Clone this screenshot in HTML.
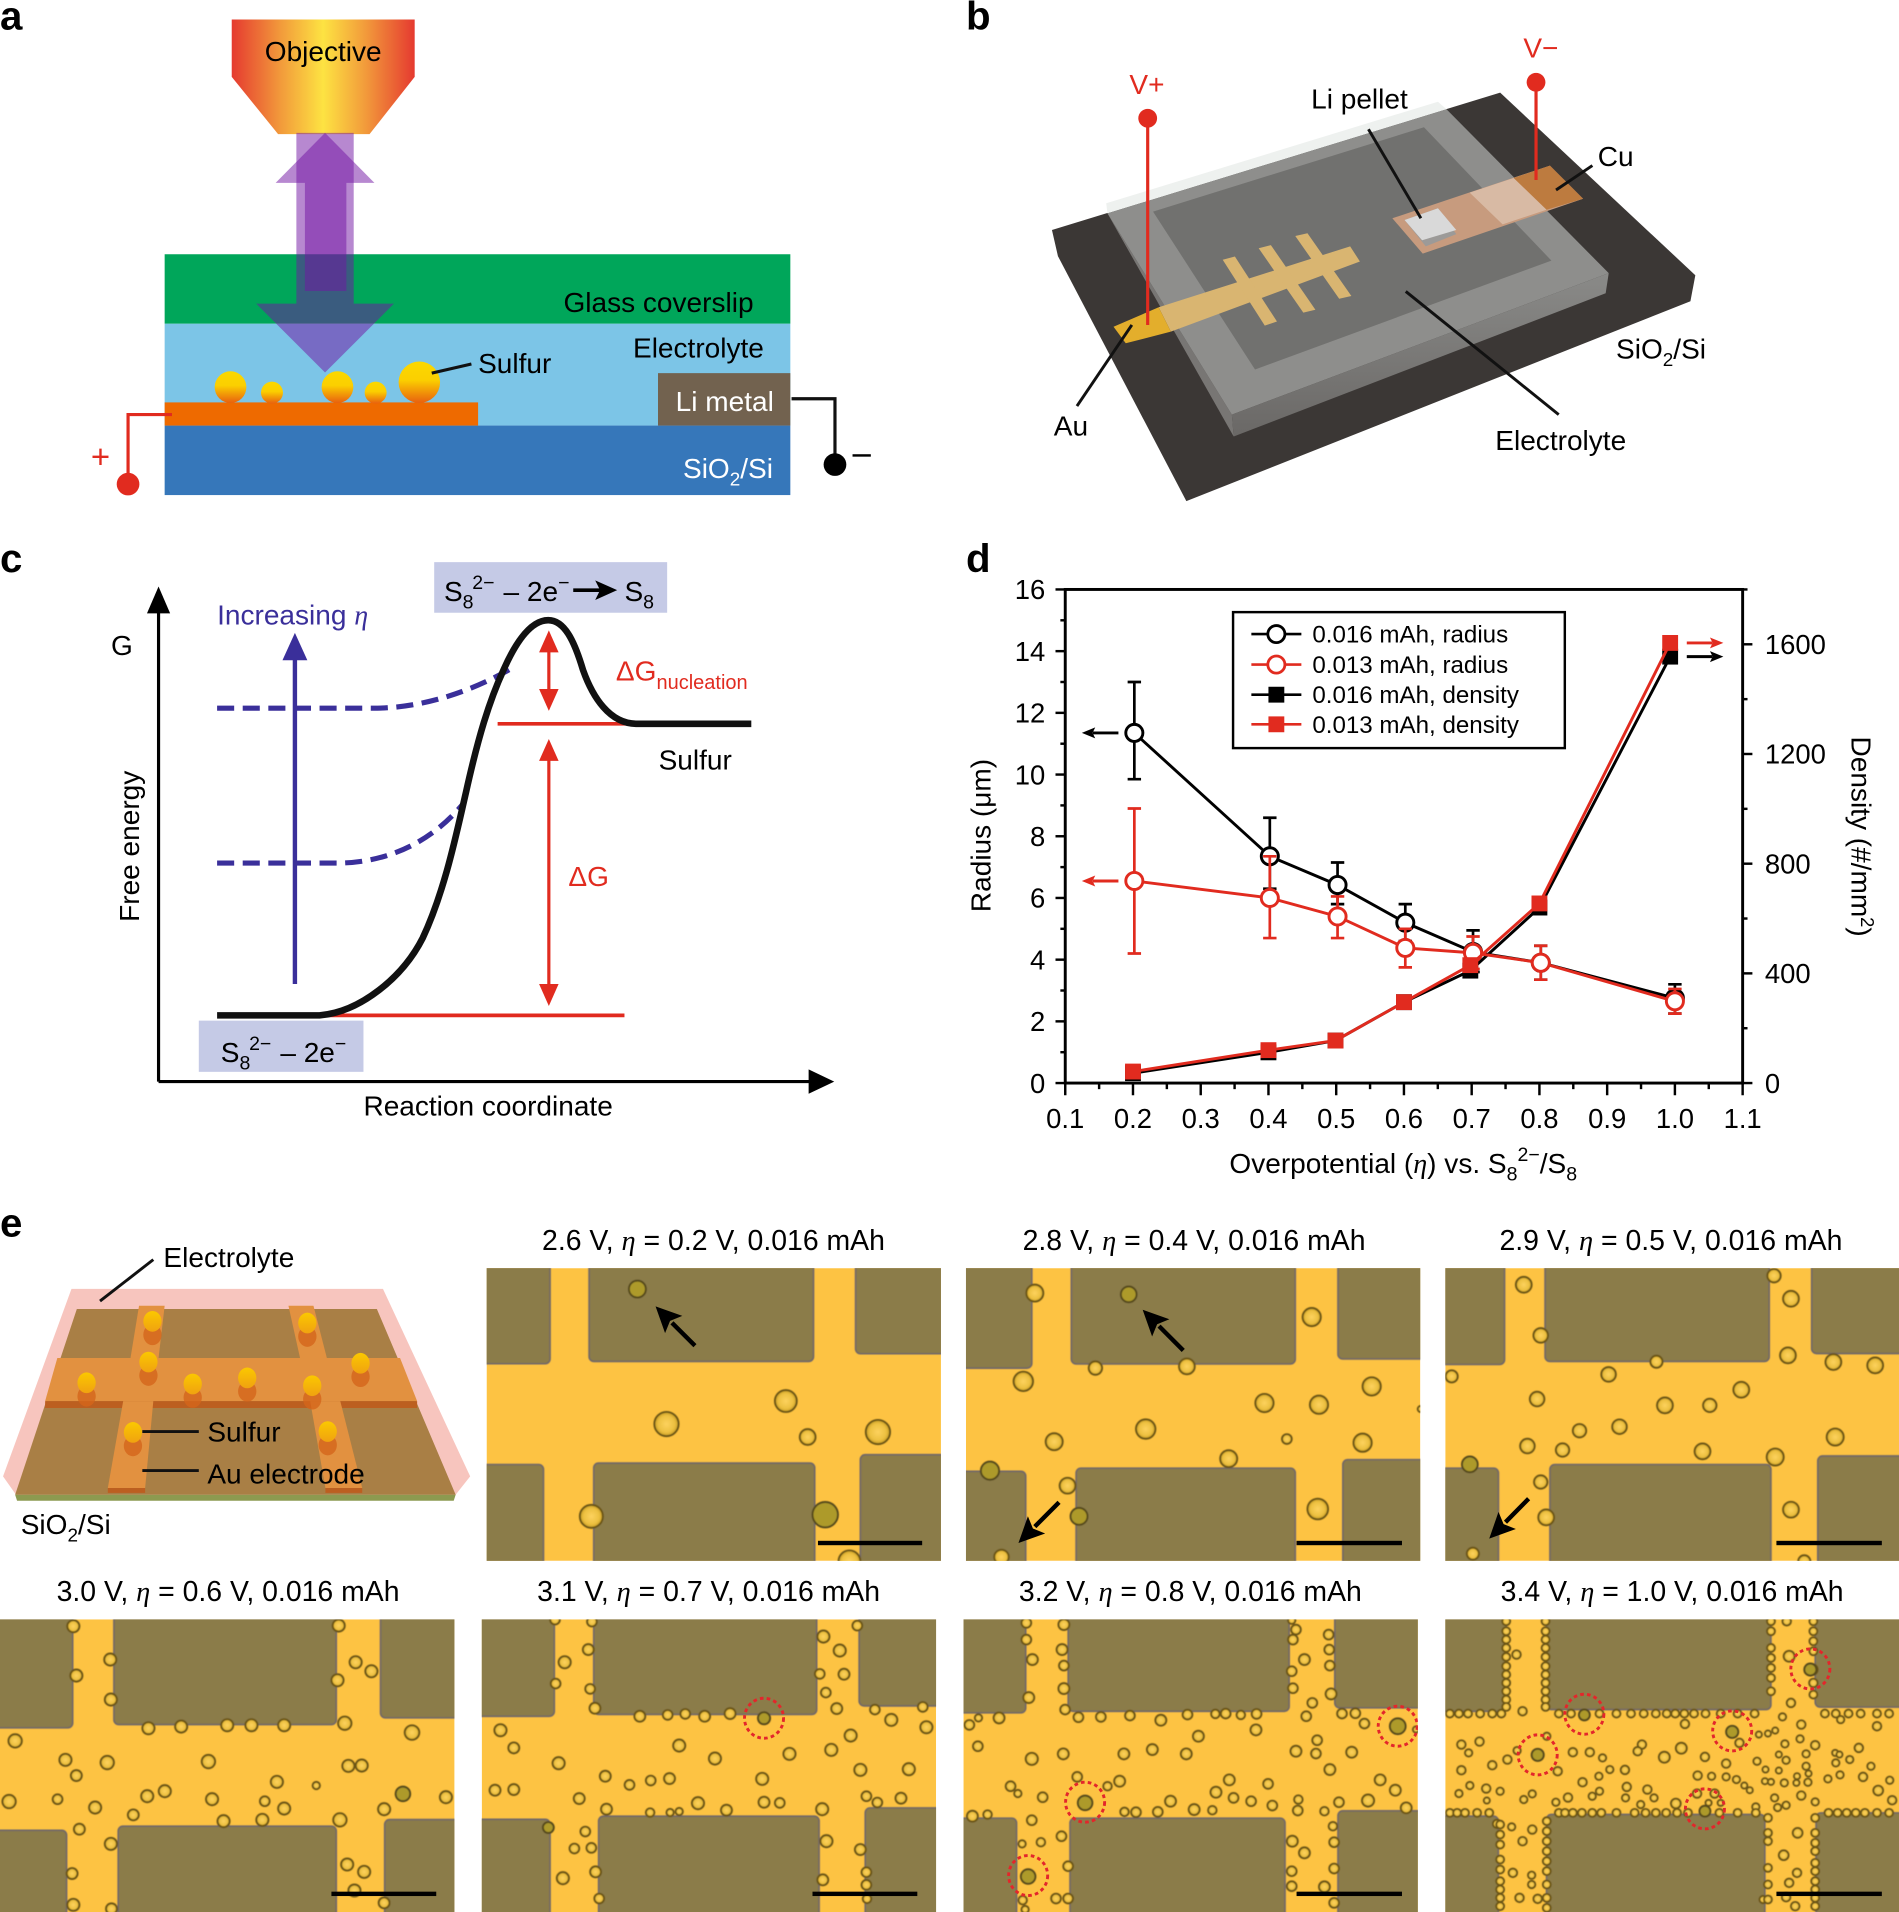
<!DOCTYPE html>
<html lang="en">
<head>
<meta charset="utf-8">
<title>Sulfur nucleation figure</title>
<style>
html,body{margin:0;padding:0;background:#fff}
svg{display:block}
text{font-family:"Liberation Sans",Arial,sans-serif;font-size:23px;fill:#000}
.eta{font-family:"Liberation Serif",serif;font-style:italic}
.lab{font-weight:bold;font-size:33px}
.red{fill:#e12b1f}
.wh{fill:#fff}
.blue{fill:#3a2f9a}
.ttl{font-size:23.3px;text-anchor:middle}
.leg{font-size:19.8px}
.tick{font-size:22.5px}
</style>
</head>
<body>
<svg id="fig" xmlns="http://www.w3.org/2000/svg" width="1899" height="1912" viewBox="0 0 1557 1568" preserveAspectRatio="none">
<defs>
<linearGradient id="objG" x1="0" x2="1" y1="0" y2="0"><stop offset="0" stop-color="#e53a30"/><stop offset=".27" stop-color="#f29b3b"/><stop offset=".5" stop-color="#fde342"/><stop offset=".73" stop-color="#f29b3b"/><stop offset="1" stop-color="#e53a30"/></linearGradient>
<linearGradient id="ball" x1="0" x2="0" y1="0" y2="1"><stop offset="0" stop-color="#fbd800"/><stop offset=".45" stop-color="#fbcf00"/><stop offset="1" stop-color="#e8600f"/></linearGradient>
<linearGradient id="ballE" x1="0" x2="0" y1="0" y2="1"><stop offset="0" stop-color="#fbc800"/><stop offset="1" stop-color="#f0a210"/></linearGradient>
<radialGradient id="bub"><stop offset="0" stop-color="#fdd25e"/><stop offset=".68" stop-color="#edc040"/><stop offset="1" stop-color="#c79c24"/></radialGradient>
<linearGradient id="sideG" x1="0" x2="0" y1="0" y2="1"><stop offset="0" stop-color="#8a8a88"/><stop offset="1" stop-color="#6a6866"/></linearGradient>
<filter id="soft" x="-2%" y="-2%" width="104%" height="104%"><feGaussianBlur stdDeviation=".45"/></filter>
</defs>

<!-- PANEL A -->
<g>
<text class="lab" x="0" y="24">a</text>
<rect x="135" y="208.5" width="513" height="57" fill="#00a65a"/>
<rect x="135" y="265.5" width="513" height="83.5" fill="#7cc5e7"/>
<rect x="135" y="349" width="513" height="57" fill="#3677ba"/>
<rect x="135" y="330" width="257" height="19" fill="#ee6a00"/>
<rect x="539.5" y="306" width="108.5" height="43" fill="#72624f"/>
<polygon points="190,16 340,16 340,63 303,110 228,110 190,63" fill="url(#objG)"/>
<polygon points="243,109 290,109 290,249 323,249 266.5,305.5 210,249 243,249" fill="#7215a3" fill-opacity=".51"/>
<polygon points="266.5,109 307,150 284,150 284,238.6 250,238.6 250,150 226,150" fill="#7215a3" fill-opacity=".51"/>
<g fill="url(#ball)">
<ellipse cx="189" cy="317.5" rx="13" ry="13"/><ellipse cx="223" cy="322" rx="9" ry="9"/><ellipse cx="276.7" cy="317.5" rx="13" ry="13"/><ellipse cx="308" cy="322" rx="9" ry="9"/><ellipse cx="343.8" cy="313.5" rx="17" ry="17"/>
</g>
<line x1="354" y1="306" x2="386.5" y2="298.5" stroke="#111" stroke-width="2.6"/>
<text x="265" y="50" text-anchor="middle">Objective</text>
<text x="462" y="256">Glass coverslip</text>
<text x="519" y="293">Electrolyte</text>
<text x="392" y="306">Sulfur</text>
<text x="554" y="337" class="wh">Li metal</text>
<text x="560" y="392" class="wh">SiO<tspan dy="6" font-size="15.5" class="wh">2</tspan><tspan dy="-6" class="wh">/Si</tspan></text>
<path d="M141,340 H105 V393" fill="none" stroke="#e12b1f" stroke-width="2.6"/>
<circle cx="105" cy="397" r="9.3" fill="#e12b1f"/>
<text x="74.5" y="384" class="red" font-size="27" style="font-size:27px">+</text>
<path d="M649,327 H684.6 V377" fill="none" stroke="#111" stroke-width="2.6"/>
<circle cx="684.6" cy="381" r="9.3" fill="#000"/>
<rect x="699" y="372.5" width="15" height="2" fill="#000"/>
</g>

<!-- PANEL B -->
<g>
<text class="lab" x="792" y="24">b</text>
<polygon points="862.5,188.6 1230,76 1390,225.7 1386,247 972.7,411 867.4,210" fill="#3b3735"/>
<polygon points="907,166.7 1179,83.4 1186,89.6 908,175" fill="#eef1ef"/>
<polygon points="908,175 1010,340 1011.5,358" fill="#787674"/>
<polygon points="908,175 1186,89.6 1319,224 1010,340" fill="#8e8e8c"/>
<polygon points="1010,340 1319,224 1316.5,240.5 1011.5,358" fill="url(#sideG)"/>
<polygon points="945.4,173.5 1167.5,104.4 1272,213.7 1029,303" fill="#71716f"/>
<polygon points="1141.6,179 1270.8,135.8 1298,163 1166.5,208" fill="#c79b7e"/>
<polygon points="1241,146 1270.8,135.8 1298,163 1268,172" fill="#bd7b3f"/>
<polygon points="1205,158 1241,146 1268,172 1232,184" fill="#d8baa4"/>
<polygon points="1151.6,180.4 1179,170.8 1194,192 1169,202" fill="#9c9a98"/>
<polygon points="1151.6,180.4 1179,170.8 1194,188.6 1166,197" fill="#d9d9d9"/>
<g fill="#d9b571">
<polygon points="950,252 1107,202 1115,214.5 960,272"/>
<polygon points="1002.5,213 1012.5,210.4 1047,263.7 1037,267"/>
<polygon points="1032,203.6 1042,201 1078.5,254 1068.6,256.4"/>
<polygon points="1062,193.5 1072,191.3 1108,242.7 1098,245"/>
</g>
<polygon points="913,268 950,252 960,272 923,281.5" fill="#e3ae2c"/>
<g stroke="#e12b1f" stroke-width="2.6" fill="#e12b1f">
<line x1="941" y1="97" x2="941" y2="266.5"/>
<circle cx="941" cy="97" r="7.7" stroke="none"/>
<line x1="1259.4" y1="67.5" x2="1259.4" y2="147.6"/>
<circle cx="1259.4" cy="67.5" r="7.7" stroke="none"/>
</g>
<g stroke="#111" stroke-width="2.4">
<line x1="1122" y1="106" x2="1165" y2="179"/>
<line x1="1305.6" y1="135.8" x2="1275.8" y2="155.8"/>
<line x1="928" y1="266.5" x2="883" y2="333"/>
<line x1="1152.6" y1="239" x2="1278" y2="340"/>
</g>
<text x="926" y="77" class="red">V+</text>
<text x="1249" y="47" class="red">V−</text>
<text x="1075" y="89">Li pellet</text>
<text x="1310" y="136">Cu</text>
<text x="1325" y="294">SiO<tspan dy="6" font-size="15.5">2</tspan><tspan dy="-6">/Si</tspan></text>
<text x="864" y="357">Au</text>
<text x="1226" y="369">Electrolyte</text>
</g>

<!-- PANEL C -->
<g>
<text class="lab" x="0" y="469">c</text>
<rect x="356" y="461" width="191" height="41.5" fill="#c5cae6"/>
<rect x="163" y="837" width="135" height="42" fill="#c5cae6"/>
<path d="M130,887 V495 M130,887 H670" fill="none" stroke="#000" stroke-width="2.6"/>
<polygon points="130,481 139.5,503 120.5,503" fill="#000"/>
<polygon points="684,887 663,877 663,897" fill="#000"/>
<g stroke="#3a2f9a" stroke-width="4.2" fill="none" stroke-dasharray="14 7">
<path d="M178,580.8 H306 C345,580.8 385,568 420,547.8"/>
<path d="M178,707.8 H276 C318,707.8 355,690 381,657.6"/>
</g>
<line x1="241.8" y1="807" x2="241.8" y2="535" stroke="#3a2f9a" stroke-width="3.6"/>
<polygon points="241.8,519 252,541.5 231.6,541.5" fill="#3a2f9a"/>
<path d="M266,832.7 H512 M408,593.6 H518" stroke="#e12b1f" stroke-width="3" fill="none"/>
<path d="M178,832.7 H262 C295,830 330,802 346.7,769 C365,730 375,680 382,650 C392,605 401,575 413,549 C425,522 437,508.6 449.5,508.6 C463,508.6 471,526 478,549.4 C486,572 500,593.6 522,593.6 H616" fill="none" stroke="#111" stroke-width="5.4"/>
<g>
<line x1="450" y1="530" x2="450" y2="570" stroke="#e12b1f" stroke-width="2.6"/>
<polygon points="450,517 458,535 442,535" fill="#e12b1f"/><polygon points="450,583 458,565 442,565" fill="#e12b1f"/>
</g>
<g>
<line x1="450" y1="620" x2="450" y2="812" stroke="#e12b1f" stroke-width="2.6"/>
<polygon points="450,606 458,624 442,624" fill="#e12b1f"/><polygon points="450,825 458,807 442,807" fill="#e12b1f"/>
</g>
<text x="178" y="512" class="blue">Increasing <tspan class="eta blue">η</tspan></text>
<text x="91" y="537">G</text>
<text transform="translate(114,756) rotate(-90)">Free energy</text>
<text x="505" y="558" class="red">ΔG<tspan dy="7" font-size="16.4" class="red">nucleation</tspan></text>
<text x="466" y="726.5" class="red">ΔG</text>
<text x="540" y="631">Sulfur</text>
<text x="298" y="915">Reaction coordinate</text>
<text x="364" y="493">S<tspan dy="6" font-size="16">8</tspan><tspan dx="-1" dy="-16" font-size="16">2−</tspan><tspan dx="1" dy="10"> – 2e</tspan><tspan dy="-10" font-size="16">−</tspan></text>
<line x1="470" y1="484" x2="495" y2="484" stroke="#000" stroke-width="3"/>
<polygon points="506,484 488,476 492,484 488,492" fill="#000"/>
<text x="512" y="493">S<tspan dy="6" font-size="16">8</tspan></text>
<text x="181" y="871">S<tspan dy="6" font-size="16">8</tspan><tspan dx="-1" dy="-16" font-size="16">2−</tspan><tspan dx="1" dy="10"> – 2e</tspan><tspan dy="-10" font-size="16">−</tspan></text>
</g>

<!-- PANEL D -->
<g id="chart">
<text class="lab" x="792" y="469">d</text>
<text transform="translate(812,748) rotate(-90)">Radius (μm)</text>
<text transform="translate(1518,604) rotate(90)">Density (#/mm<tspan dy="-8" font-size="15">2</tspan><tspan dy="8">)</tspan></text>
<text x="1008" y="962">Overpotential (<tspan class="eta">η</tspan>) vs. S<tspan dy="6" font-size="16">8</tspan><tspan dy="-16" font-size="16">2−</tspan><tspan dy="10">/S</tspan><tspan dy="6" font-size="16">8</tspan></text>
</g>

<!-- PANEL E -->
<g>
<text class="lab" x="0" y="1014">e</text>
<polygon points="58.6,1057 314,1057 385.5,1210.7 372.6,1227 14,1227 2.5,1210.7" fill="#f7c5be"/>
<polygon points="63,1073.5 309,1073.5 373.6,1225.8 12.4,1225.8" fill="#a97f45"/>
<polygon points="12.4,1225.8 373.6,1225.8 372,1230.7 14,1230.7" fill="#8c9a50"/>
<g fill="#e29140">
<polygon points="114,1070.8 135,1070.8 130,1113.7 107,1113.7"/>
<polygon points="236.5,1070.8 257,1070.8 268,1113.7 246,1113.7"/>
<polygon points="47,1113.7 328,1113.7 342,1149 37,1149"/>
</g>
<polygon points="37,1149 342,1149 342,1154.7 37,1154.7" fill="#bc5f20"/>
<g fill="#e29140">
<polygon points="101,1149 125.7,1149 119,1220.3 88.4,1220.3"/>
<polygon points="254.3,1149 279,1149 297,1220.3 266.8,1220.3"/>
</g>
<rect x="88.4" y="1220.3" width="30.6" height="4" fill="#bc5f20"/>
<rect x="266.8" y="1220.3" width="30.2" height="4" fill="#bc5f20"/>
<g id="diagBalls"></g>
<line x1="82" y1="1067" x2="125.7" y2="1033" stroke="#111" stroke-width="2.4"/>
<line x1="116.7" y1="1174" x2="163" y2="1174" stroke="#111" stroke-width="2.4"/>
<line x1="116.7" y1="1206" x2="163" y2="1206" stroke="#111" stroke-width="2.4"/>
<text x="134" y="1039">Electrolyte</text>
<text x="170" y="1182">Sulfur</text>
<text x="170" y="1216.5">Au electrode</text>
<text x="17" y="1258">SiO<tspan dy="6" font-size="15.5">2</tspan><tspan dy="-6">/Si</tspan></text>

<text class="ttl" x="585" y="1025">2.6 V, <tspan class="eta">η</tspan> = 0.2 V, 0.016 mAh</text>
<text class="ttl" x="979" y="1025">2.8 V, <tspan class="eta">η</tspan> = 0.4 V, 0.016 mAh</text>
<text class="ttl" x="1370" y="1025">2.9 V, <tspan class="eta">η</tspan> = 0.5 V, 0.016 mAh</text>
<text class="ttl" x="187" y="1313">3.0 V, <tspan class="eta">η</tspan> = 0.6 V, 0.016 mAh</text>
<text class="ttl" x="581" y="1313">3.1 V, <tspan class="eta">η</tspan> = 0.7 V, 0.016 mAh</text>
<text class="ttl" x="976" y="1313">3.2 V, <tspan class="eta">η</tspan> = 0.8 V, 0.016 mAh</text>
<text class="ttl" x="1371" y="1313">3.4 V, <tspan class="eta">η</tspan> = 1.0 V, 0.016 mAh</text>
<g id="micros"></g>
</g>
</svg>

<script>
/* ---------- chart data (panel d) ---------- */
const overpotentialRadius = [0.202, 0.402, 0.502, 0.602, 0.702, 0.802, 1.0];
const overpotentialDensity = [0.2, 0.4, 0.499, 0.6, 0.698, 0.8, 0.993];
const radius016 = [11.35, 7.35, 6.42, 5.2, 4.25, 3.9, 2.75];
const radius016Upper = [13.0, 8.6, 7.15, 5.8, 4.95, 4.45, 3.2];
const radius016Lower = [9.85, 6.3, 5.8, 4.6, 3.6, 3.35, 2.25];
const radius013 = [6.55, 6.0, 5.4, 4.38, 4.22, 3.9, 2.65];
const radius013Upper = [8.9, 7.35, 6.05, 5.0, 4.75, 4.45, 3.05];
const radius013Lower = [4.2, 4.7, 4.7, 3.75, 3.7, 3.35, 2.25];
const density016 = [36, 112, 155, 295, 410, 640, 1555];
const density013 = [42, 120, 155, 295, 430, 655, 1605];
const xTickLabels = ['0.1','0.2','0.3','0.4','0.5','0.6','0.7','0.8','0.9','1.0','1.1'];
const radiusTickLabels = ['0','2','4','6','8','10','12','14','16'];
const densityTickLabels = ['0','400','800','1200','1600'];
const legendLabels = ['0.016 mAh, radius','0.013 mAh, radius','0.016 mAh, density','0.013 mAh, density'];

const SVGNS = 'http://www.w3.org/2000/svg';
function mk(tag, parent, attrs) {
  const el = document.createElementNS(SVGNS, tag);
  for (const k in attrs) el.setAttribute(k, attrs[k]);
  parent.appendChild(el);
  return el;
}

const PX0 = 873.4, PX1 = 1428.8, PY0 = 888.2, PY1 = 483.4;
const xScale = v => PX0 + (v - 0.1) / 1.0 * (PX1 - PX0);
const rScale = v => PY0 - v / 16 * (PY0 - PY1);
const dScale = v => PY0 - v / 1800 * (PY0 - PY1);
const BLACK = '#000', RED = '#e12b1f';
const chart = document.getElementById('chart');

function drawAxes() {
  const frame = mk('rect', chart, {x: PX0, y: PY1, width: PX1 - PX0, height: PY0 - PY1, fill: 'none', stroke: '#000', 'stroke-width': 2.4});
  
  
  for (let i = 0; i <= 20; i++) {
    const v = 0.1 + i * 0.05, major = i % 2 === 0;
    const t = mk('line', chart, {x1: xScale(v), x2: xScale(v), y1: PY0, y2: PY0 + (major ? 10 : 5), stroke: '#000', 'stroke-width': 2});
    
    
  }
  xTickLabels.forEach(s => {
    const l = mk('text', chart, {x: xScale(+s), y: 925, 'text-anchor': 'middle', class: 'tick'});
    l.textContent = s;
    
    
  });
  for (let v = 0; v <= 16; v++) {
    const major = v % 2 === 0;
    const t = mk('line', chart, {x1: PX0 - (major ? 8 : 4), x2: PX0, y1: rScale(v), y2: rScale(v), stroke: '#000', 'stroke-width': 2});
    
    
  }
  radiusTickLabels.forEach(s => {
    const l = mk('text', chart, {x: 857, y: rScale(+s) + 8, 'text-anchor': 'end', class: 'tick'});
    l.textContent = s;
    
    
  });
  for (let v = 0; v <= 1800; v += 200) {
    const major = v % 400 === 0;
    const t = mk('line', chart, {x1: PX1, x2: PX1 + (major ? 8 : 4), y1: dScale(v), y2: dScale(v), stroke: '#000', 'stroke-width': 2});
    
    
  }
  densityTickLabels.forEach(s => {
    const l = mk('text', chart, {x: 1447, y: dScale(+s) + 8, class: 'tick'});
    l.textContent = s;
    
    
  });
}

function polyline(xs, ys, xFn, yFn, color, name) {
  const pts = xs.map((x, i) => xFn(x) + ',' + yFn(ys[i])).join(' ');
  const p = mk('polyline', chart, {points: pts, fill: 'none', stroke: color, 'stroke-width': 2.4});
  
  
}

function errorBars(xs, up, lo, color) {
  xs.forEach((x, i) => {
    const cx = xScale(x), a = rScale(up[i]), b = rScale(lo[i]);
    const e = mk('path', chart, {d: `M${cx},${a} V${b} M${cx - 5.5},${a} H${cx + 5.5} M${cx - 5.5},${b} H${cx + 5.5}`, fill: 'none', stroke: color, 'stroke-width': 2.2});
    
    
  });
}

function circles(xs, ys, color) {
  xs.forEach((x, i) => {
    const c = mk('circle', chart, {cx: xScale(x), cy: rScale(ys[i]), r: 7, fill: '#fff', stroke: color, 'stroke-width': 2.4});
    
    
  });
}

function squares(xs, ys, color) {
  xs.forEach((x, i) => {
    const s = mk('rect', chart, {x: xScale(x) - 6.5, y: dScale(ys[i]) - 6.5, width: 13, height: 13, fill: color});
    
    
  });
}

function arrow(parent, x1, y1, x2, y2, len, hw, color, sw) {
  const dx = x2 - x1, dy = y2 - y1, d = Math.hypot(dx, dy), ux = dx / d, uy = dy / d;
  const bx = x2 - ux * len, by = y2 - uy * len;
  const g = mk('g', parent, {});
  mk('line', g, {x1: x1, y1: y1, x2: bx + ux * 2, y2: by + uy * 2, stroke: color, 'stroke-width': sw});
  mk('polygon', g, {points: `${x2},${y2} ${bx - uy * hw},${by + ux * hw} ${bx + ux * len * .2},${by + uy * len * .2} ${bx + uy * hw},${by - ux * hw}`, fill: color});
  return g;
}

function drawSeries() {
  errorBars(overpotentialRadius, radius016Upper, radius016Lower, BLACK);
  polyline(overpotentialRadius, radius016, xScale, rScale, BLACK, 'radius-line-0-016');
  circles(overpotentialRadius, radius016, BLACK);
  polyline(overpotentialDensity, density016, xScale, dScale, BLACK, 'density-line-0-016');
  squares(overpotentialDensity, density016, BLACK);
  errorBars(overpotentialRadius, radius013Upper, radius013Lower, RED);
  polyline(overpotentialRadius, radius013, xScale, rScale, RED, 'radius-line-0-013');
  circles(overpotentialRadius, radius013, RED);
  polyline(overpotentialDensity, density013, xScale, dScale, RED, 'density-line-0-013');
  squares(overpotentialDensity, density013, RED);
  const a1 = arrow(chart, 917, rScale(radius016[0]), 887, rScale(radius016[0]), 11, 4.5, BLACK, 2.4);
  
  
  const a2 = arrow(chart, 917, rScale(radius013[0]), 887, rScale(radius013[0]), 11, 4.5, RED, 2.4);
  
  
  const a3 = arrow(chart, 1383, dScale(density013[6]), 1413, dScale(density013[6]), 11, 4.5, RED, 2.4);
  
  
  const a4 = arrow(chart, 1383, dScale(density016[6]), 1413, dScale(density016[6]), 11, 4.5, BLACK, 2.4);
  
  
}

function drawLegend() {
  const box = mk('rect', chart, {x: 1011, y: 502, width: 272, height: 111.5, fill: '#fff', stroke: '#000', 'stroke-width': 2});
  
  
  const rowY = [520, 545, 569.7, 594];
  const rowC = [BLACK, RED, BLACK, RED];
  legendLabels.forEach((s, i) => {
    const ln = mk('line', chart, {x1: 1026, x2: 1067, y1: rowY[i], y2: rowY[i], stroke: rowC[i], 'stroke-width': 2.2});
    
    
    if (i < 2) {
      const m = mk('circle', chart, {cx: 1046.5, cy: rowY[i], r: 7, fill: '#fff', stroke: rowC[i], 'stroke-width': 2.3});
      
      
    } else {
      const m = mk('rect', chart, {x: 1040, y: rowY[i] - 6.5, width: 13, height: 13, fill: rowC[i]});
      
      
    }
    const t = mk('text', chart, {x: 1076, y: rowY[i] + 7, class: 'leg'});
    t.textContent = s;
    
    
  });
}

drawAxes();
drawSeries();
drawLegend();

/* ---------- panel e diagram droplets ---------- */
const diagDroplets = [[125,1083.6],[252,1085],[121.7,1117],[295.6,1118],[71,1134],[158,1135],[202.7,1130],[256,1136.4],[109,1174.7],[268.7,1174]];
const diag = document.getElementById('diagBalls');
diagDroplets.forEach(p => {
  const s = mk('ellipse', diag, {cx: p[0], cy: p[1] + 11, rx: 7.5, ry: 8.5, fill: '#d5651a', 'fill-opacity': .8});
  
  
  const b = mk('ellipse', diag, {cx: p[0], cy: p[1], rx: 7.5, ry: 8.5, fill: 'url(#ballE)'});
  
  
});

/* ---------- micrographs ---------- */
const SX = 1 / 2.013, SY = 1 / 3.659;
function rep(y, xs) { return xs.map(x => [x, y, 6.5]); }
function repV(x, ys) { return ys.map(y => [x, y, 6.5]); }

const m1Bubbles = [[1052,268,14,1],[1297,604,18],[1100,673,20],[1333,712,13],[1449,697,20],[976,950,19],[1362,945,21,1],[1402,1085,18]];
const m2Bubbles = [[140,280,14],[295,284,13,1],[597,352,15],[240,505,11],[391,500,13],[121,545,16],[696,560,15],[519,610,15],[609,615,15],[323,688,16],[172,726,14],[556,718,8],[681,729,15],[460,777,14],[66,813,15,1],[194,858,13],[213,950,14,1],[607,928,17],[85,1072,12],[777,628,5]];
const m3Bubbles = [[947,255,13],[1360,228,11],[1388,297,13],[975,407,12],[1383,467,13],[1166,486,10],[1458,487,13],[1527,497,13],[828,530,10],[1087,524,12],[1306,570,13],[969,598,12],[1180,617,13],[1254,617,11],[1039,693,11],[1105,681,12],[953,739,12],[1011,751,11],[1461,712,14],[1242,755,13],[1362,772,14],[858,794,13,1],[975,847,11],[984,953,13],[1388,930,13],[863,1062,10],[1410,1085,10]];
const m4Bubbles = [[121,170,10],[559,168,10],[182,270,10],[587,278,10],[613,305,10],[126,318,10],[557,332,10],[183,390,10],[245,476,10],[299,471,10],[375,467,10],[415,467,10],[469,467,10],[569,461,11],[680,489,12],[25,514,11],[108,571,10],[177,579,11],[344,576,11],[575,589,10],[597,588,10],[126,618,9],[457,637,10],[522,648,6],[272,665,10],[243,680,10],[15,696,11],[95,689,8],[350,689,10],[437,695,8],[665,673,12,1],[736,683,10],[157,714,10],[469,717,10],[220,736,9],[634,719,10],[369,755,10],[433,751,10],[561,751,11],[131,779,9],[183,823,10],[119,912,9],[573,885,10],[601,907,10],[585,963,10],[121,1006,10],[184,1018,9],[634,1000,9]];
const m5Bubbles = [[916,150,8],[977,156,8],[1415,168,8],[1359,201,10],[971,240,9],[1386,243,10],[932,278,10],[1353,313,8],[1393,314,9],[917,342,8],[974,358,8],[1363,369,8],[982,416,9],[1381,417,9],[1056,440,9],[1102,436,8],[1131,433,8],[1163,440,9],[1205,432,9],[1261,446,10,1],[1444,420,8],[1523,412,8],[1471,451,10],[1529,473,10],[826,482,10],[1404,498,10],[1121,528,10],[848,535,9],[1372,541,10],[1303,553,10],[1180,567,10],[922,581,10],[1420,601,10],[1500,599,10],[999,620,9],[1258,628,10],[1074,633,8],[1105,627,9],[1039,646,8],[817,662,9],[848,660,9],[956,687,9],[1430,680,8],[1487,686,9],[1448,699,8],[1152,701,10],[1261,698,9],[1287,700,8],[1001,719,9],[1199,722,9],[1357,719,10],[1073,729,7],[1106,729,6],[1121,726,6],[905,774,9,1],[966,786,8],[1364,815,10],[1420,840,9],[948,837,8],[976,835,8],[983,907,9],[929,926,10],[1358,931,9],[1430,908,8],[1430,946,8],[989,987,8],[1431,988,7]];
const m6Bubbles = [[126,160,8],[188,165,9],[564,152,6],[571,180,8],[126,210,8],[566,210,8],[625,195,8],[185,240,9],[626,240,8],[136,270,9],[585,270,9],[188,288,8],[627,288,8],[564,305,8],[188,357,9],[566,356,8],[629,373,9],[130,384,9],[598,400,8],[190,420,8],[212,443,8],[249,442,8],[297,438,8],[348,452,9],[392,435,8],[438,433,7],[455,432,8],[480,436,7],[506,433,8],[588,440,8],[647,432,8],[669,431,8],[684,462,8],[32,466,8],[47,445,6],[81,445,9],[410,500,9],[505,481,9],[46,530,8],[606,512,8],[571,545,9],[604,552,8],[663,548,9],[135,568,10],[187,553,9],[287,553,9],[334,540,9],[390,553,9],[627,600,9],[210,622,8],[280,635,9],[461,631,9],[525,643,8],[710,631,9],[100,650,8],[260,650,7],[735,662,9],[112,672,6],[153,683,8],[439,668,9],[468,685,8],[497,695,8],[575,690,7],[642,698,8],[690,693,10],[364,695,9],[403,720,9],[433,722,7],[288,727,7],[307,728,8],[343,727,8],[532,708,8],[574,723,8],[618,725,7],[753,715,9],[37,740,9],[62,735,7],[135,752,8],[184,800,8],[150,818,7],[119,823,6],[632,770,7],[565,815,9],[634,818,8],[585,850,9],[195,890,8],[634,897,8],[564,905,8],[618,952,9],[564,950,8],[175,987,8],[195,987,8],[120,992,7],[634,1000,8],[124,1020,6],[769,480,5],[739,470,13,1],[223,700,12,1],[129,921,12,1]];
const m7Bubbles = [[935,255,7],[1385,260,9],[1423,300,9],[1425,340,7],[1388,400,7],[945,425,7],[1374,442,6],[1405,465,7],[1213,463,7],[1470,450,6],[1530,470,7],[1335,495,5],[1350,492,5],[1362,483,5],[1303,520,7],[1142,525,7],[1207,536,9],[1378,523,6],[1428,527,7],[844,525,7],[874,516,7],[856,550,6],[1403,508,6],[1500,535,7],[1135,545,7],[1179,563,9],[1246,562,7],[936,543,6],[920,570,7],[985,500,6],[1028,548,7],[1056,548,7],[1077,565,6],[1281,582,7],[1332,575,6],[1368,555,5],[1380,572,6],[1413,553,6],[1461,550,5],[1468,555,5],[1485,570,6],[1462,580,6],[1520,590,6],[895,587,7],[844,602,7],[1089,600,6],[1114,601,7],[1003,605,7],[1346,600,5],[1368,603,5],[1413,590,6],[1234,618,7],[1257,620,6],[1281,622,6],[1298,630,6],[1417,612,5],[1398,620,5],[1449,628,6],[1469,616,6],[1507,622,7],[1551,632,6],[1071,620,6],[1044,638,7],[1345,635,5],[1355,637,5],[1377,640,6],[1397,640,5],[1416,638,6],[858,648,6],[885,657,7],[908,665,6],[840,672,6],[1117,652,7],[1151,660,7],[1311,648,5],[1320,662,5],[1072,665,6],[1060,680,6],[961,673,6],[947,690,6],[1020,684,7],[1162,685,6],[1115,685,6],[1233,672,7],[1262,672,7],[1532,663,8],[1405,678,7],[1361,685,6],[1555,692,7],[886,693,5],[1000,698,6],[1428,697,6],[1140,705,6],[1198,702,8],[1380,707,6],[1330,712,6],[1366,714,6],[1252,700,5],[1272,700,5],[903,763,7],[927,772,6],[961,780,7],[945,815,7],[929,910,7],[960,917,6],[960,945,6],[940,985,7],[970,988,7],[1399,790,8],[1376,857,8],[1398,910,7],[1385,940,7],[1380,983,7],[1395,1010,7],[1342,990,6],[1381,155,7]]
  .concat(rep(432,[825,840,855,875,895,910,1005,1025,1072,1100,1124,1145,1165,1183,1197,1212,1228,1247,1272,1300,1328,1444,1462,1483,1503,1530,1550]))
  .concat(rep(730,[825,837,850,870,890,1005,1015,1028,1043,1060,1075,1100,1130,1148,1165,1182,1200,1218,1270,1300,1330,1450,1465,1480,1495,1510,1530,1550]))
  .concat(repV(918,[155,185,210,235,262,290,315,340,365,390,412]))
  .concat(repV(983,[155,185,210,235,262,290,315,340,365,390,412]))
  .concat(repV(1355,[155,185,235,265,295,325,365]))
  .concat(repV(1425,[155,185,215,245,375]))
  .concat(repV(908,[765,795,825,870,900,935,960,985,1010]))
  .concat(repV(985,[755,785,815,845,875,905,945,985,1015]))
  .concat(repV(1350,[745,790,815,895,945,990]))
  .concat(repV(1428,[745,790,820,845,880,905,935,960,985,1010]))
  .concat([[1420,300,10,1],[1047,436,9,1],[1291,487,10,1],[970,556,10,1],[1246,725,9,1]]);

const ox2 = 778.9, oyA = 983.9, oyB = 1287.2;
const micrographs = [
 {name:'micrograph-2-6v', x0:399, x1:771.5, y0:1040, y1:1280, ox:0, oy:oyA, rects:[[390,1030,451,1118.4],[483,1030,667,1116.5],[701.5,1030,780,1110.2],[390,1201,445.6,1290],[486.8,1199.8,668,1290],[705.4,1193,780,1290]], bubbles:m1Bubbles, rings:[], arrows:[[1147,438,1082,320]], bar:[1350,1522,1030]},
 {name:'micrograph-2-8v', x0:792, x1:1164.5, y0:1040, y1:1280, ox:ox2, oy:oyA, rects:[[783,1030,846,1122],[878.4,1030,1062,1118.6],[1097,1030,1175,1114.5],[783,1206.6,841,1290],[882.3,1204,1062,1290],[1101,1197,1175,1290]], bubbles:m2Bubbles, rings:[], arrows:[[385,452,318,330],[180,908,113,1030]], bar:[572,746,1030]},
 {name:'micrograph-2-9v', x0:1185, x1:1557, y0:1040, y1:1280, ox:ox2, oy:oyA, rects:[[1176,1030,1233.6,1119],[1266.8,1030,1450.6,1116.5],[1485.4,1030,1568,1110],[1176,1204,1228.6,1290],[1270.8,1201,1452,1290],[1490.4,1194,1568,1290]], bubbles:m3Bubbles, rings:[], arrows:[[955,897,890,1017]], bar:[1364,1538,1030]},
 {name:'micrograph-3-0v', x0:0, x1:372.6, y0:1328, y1:1568, ox:0, oy:oyB, rects:[[-9,1318,59.6,1417],[93.4,1318,275.7,1414.3],[312,1318,383,1408.8],[-9,1501,54.6,1578],[96.9,1497.6,275.7,1578],[315.4,1492.2,383,1578]], bubbles:m4Bubbles, rings:[], arrows:[], bar:[547,720,973]},
 {name:'micrograph-3-1v', x0:395, x1:767.5, y0:1328, y1:1568, ox:0, oy:oyB, rects:[[386,1318,454.5,1407.5],[486.8,1318,669.6,1406],[704.4,1318,778,1399],[386,1492,451,1578],[490.8,1489.4,671.6,1578],[709.4,1482.6,778,1578]], bubbles:m5Bubbles, rings:[[1261,446]], arrows:[], bar:[1341,1514,973]},
 {name:'micrograph-3-2v', x0:790, x1:1162.5, y0:1328, y1:1568, ox:ox2, oy:oyB, rects:[[781,1318,841,1404.7],[875.8,1318,1057,1403.4],[1094.4,1318,1173,1400.6],[781,1491,833.5,1578],[877.3,1491,1053.6,1578],[1097,1485,1173,1578]], bubbles:m6Bubbles, rings:[[739,470],[223,698],[129,918]], arrows:[], bar:[572,746,973]},
 {name:'micrograph-3-4v', x0:1185, x1:1557, y0:1328, y1:1568, ox:ox2, oy:oyB, rects:[[1176,1318,1235,1403.4],[1268,1318,1452,1402],[1488.3,1318,1568,1400],[1176,1489.4,1228.5,1578],[1268,1488,1447,1578],[1489,1486.7,1568,1578]], bubbles:m7Bubbles, rings:[[1420,298],[1047,434],[1291,484],[970,556],[1246,718]], arrows:[], bar:[1364,1538,973]}
];

const microsRoot = document.getElementById('micros');
const defs = document.querySelector('defs');
micrographs.forEach((m, idx) => {
  const clip = mk('clipPath', defs, {id: 'clip' + idx});
  mk('rect', clip, {x: m.x0, y: m.y0, width: m.x1 - m.x0, height: m.y1 - m.y0});
  const g = mk('g', microsRoot, {'clip-path': 'url(#clip' + idx + ')'});
  
  
  const bg = mk('rect', g, {x: m.x0, y: m.y0, width: m.x1 - m.x0, height: m.y1 - m.y0, fill: '#fdc343'});
  
  
  const soft = mk('g', g, {filter: 'url(#soft)'});
  
  
  m.rects.forEach(r => {
    const p = mk('rect', soft, {x: r[0], y: r[1], width: r[2] - r[0], height: r[3] - r[1], rx: 4, fill: '#8b7c4a', stroke: '#6f6668', 'stroke-width': 1.3});
    
    
  });
  m.bubbles.forEach(b => {
    const dark = b[3] === 1;
    const c = mk('ellipse', soft, {
      cx: b[0] * SX + m.ox, cy: b[1] * SY + m.oy,
      rx: b[2] * SX, ry: b[2] * SX,
      fill: dark ? '#ad9a2c' : 'url(#bub)', stroke: dark ? '#54481a' : '#6b5515', 'stroke-width': 1.6
    });
    
    
  });
  m.rings.forEach(r => {
    const c = mk('ellipse', g, {cx: r[0] * SX + m.ox, cy: r[1] * SY + m.oy, rx: 16, ry: 16.4, fill: 'none', stroke: '#e3262b', 'stroke-width': 2.4, 'stroke-dasharray': '3 2.6'});
    
    
  });
  m.arrows.forEach(a => {
    const ar = arrow(g, a[0] * SX + m.ox, a[1] * SY + m.oy, a[2] * SX + m.ox, a[3] * SY + m.oy, 21, 10, '#000', 3.6);
    
    
  });
  const bar = mk('rect', g, {x: m.bar[0] * SX + m.ox, y: m.bar[2] * SY + m.oy - 1.8, width: (m.bar[1] - m.bar[0]) * SX, height: 3.6, fill: '#000'});
  
  
});
</script>
</body>
</html>
